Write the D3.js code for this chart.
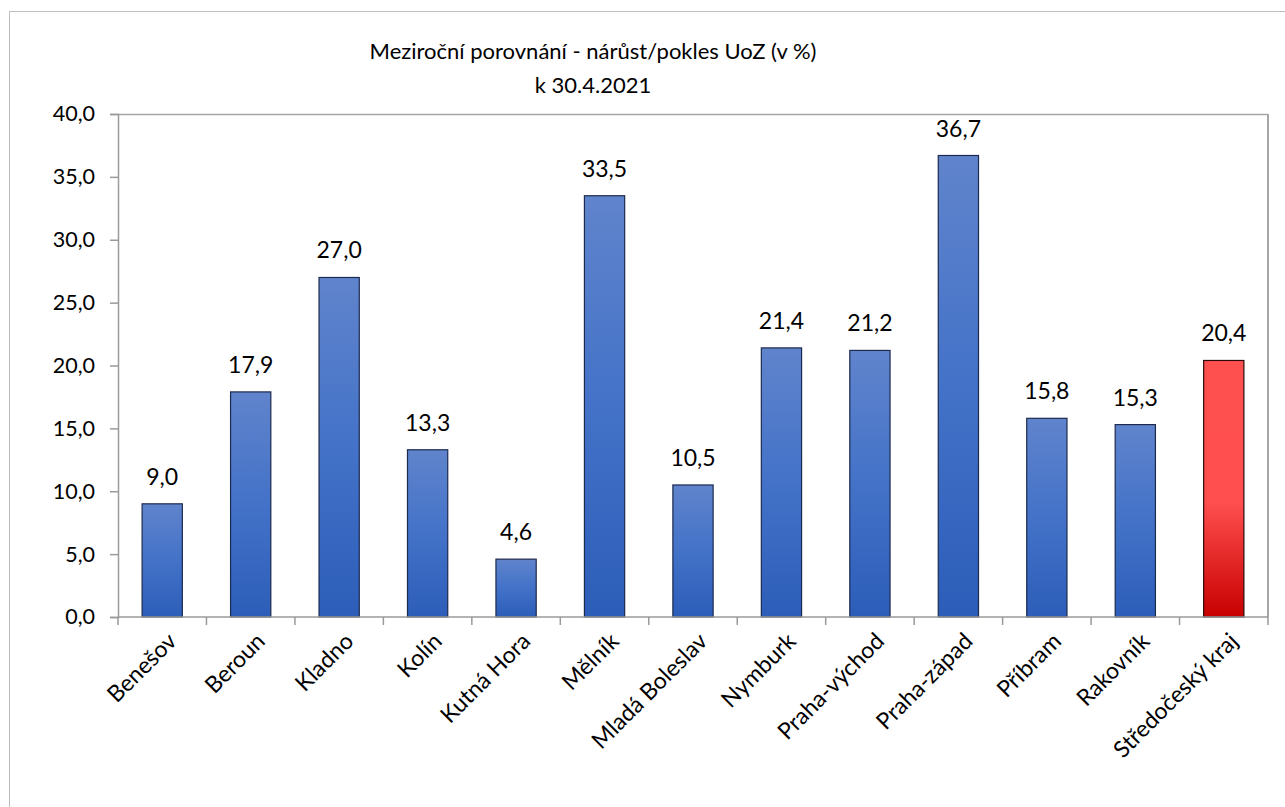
<!DOCTYPE html>
<html>
<head>
<meta charset="utf-8">
<script src="https://d3js.org/d3.v7.min.js"></script>
<style>
  body { margin: 0; background: #fff; }
  svg text { font-family: Lato, "Open Sans", sans-serif; fill: #000; }
</style>
</head>
<body>
<svg width="1285" height="807"></svg>
<script>
var categories = ["Benešov", "Beroun", "Kladno", "Kolín", "Kutná Hora", "Mělník", "Mladá Boleslav",
                  "Nymburk", "Praha-východ", "Praha-západ", "Příbram", "Rakovník", "Středočeský kraj"];
var values = [9.0, 17.9, 27.0, 13.3, 4.6, 33.5, 10.5, 21.4, 21.2, 36.7, 15.8, 15.3, 20.4];
var yTicks = [0, 5, 10, 15, 20, 25, 30, 35, 40];
var titleLines = ["Meziroční porovnání - nárůst/pokles UoZ (v %)", "k 30.4.2021"];

var svg = d3.select("svg");
var margin = {top: 114, left: 118, right: 17, bottom: 190};
var width = 1285 - margin.left - margin.right;
var height = 807 - margin.top - margin.bottom;

// outer chart border (runs off the right and bottom edge)
svg.append("rect")
    .attr("x", 9.5).attr("y", 11.5)
    .attr("width", 1300).attr("height", 820)
    .attr("fill", "none").attr("stroke", "#bdbdbd");

var defs = svg.append("defs");
var blue = defs.append("linearGradient").attr("id", "gBlue")
    .attr("x1", 0).attr("y1", 0).attr("x2", 0).attr("y2", 1);
blue.append("stop").attr("offset", "0%").attr("stop-color", "#6084cc");
blue.append("stop").attr("offset", "50%").attr("stop-color", "#4372c8");
blue.append("stop").attr("offset", "100%").attr("stop-color", "#2c5db8");
var red = defs.append("linearGradient").attr("id", "gRed")
    .attr("x1", 0).attr("y1", 0).attr("x2", 0).attr("y2", 1);
red.append("stop").attr("offset", "0%").attr("stop-color", "#ff5050");
red.append("stop").attr("offset", "55%").attr("stop-color", "#ff4f4f");
red.append("stop").attr("offset", "100%").attr("stop-color", "#c80000");

var g = svg.append("g")
    .attr("transform", "translate(" + margin.left + "," + margin.top + ")");

var x = d3.scaleBand().domain(categories).range([0, width]).paddingInner(0.545).paddingOuter(0.2725);
var xTick = d3.scaleBand().domain(categories).range([0, width]);
var y = d3.scaleLinear().domain([0, 40]).range([height, 0]);

// plot area frame
g.append("line").attr("x1", 0).attr("x2", width).attr("y1", 0.5).attr("y2", 0.5)
    .attr("stroke", "#a6a6a6").attr("stroke-width", 1.5);
g.append("line").attr("x1", width).attr("x2", width).attr("y1", 0).attr("y2", height)
    .attr("stroke", "#a6a6a6").attr("stroke-width", 2);

// y axis
var yAxis = g.append("g")
    .call(d3.axisLeft(y).tickValues(yTicks).tickSize(8).tickPadding(15)
        .tickFormat(function(d) { return d3.format(".1f")(d).replace(".", ","); }));
yAxis.selectAll("path, line").attr("stroke", "#9a9a9a").attr("stroke-width", 1.5);
yAxis.selectAll("text").style("font-size", "21.5px");

// bars
g.selectAll(".bar")
    .data(values)
  .enter().append("rect")
    .attr("class", "bar")
    .attr("x", function(d, i) { return x(categories[i]); })
    .attr("y", function(d) { return y(d); })
    .attr("width", x.bandwidth())
    .attr("height", function(d) { return height - y(d); })
    .attr("fill", function(d, i) { return i === categories.length - 1 ? "url(#gRed)" : "url(#gBlue)"; })
    .attr("stroke", function(d, i) { return i === categories.length - 1 ? "#2a0a0a" : "#1c2a4e"; })
    .attr("stroke-width", 1.2);

// value labels
g.selectAll(".val")
    .data(values)
  .enter().append("text")
    .attr("class", "val")
    .attr("x", function(d, i) { return x(categories[i]) + x.bandwidth() / 2; })
    .attr("y", function(d) { return y(d) - 19; })
    .attr("text-anchor", "middle")
    .style("font-size", "23px")
    .text(function(d) { return d3.format(".1f")(d).replace(".", ","); });

// x axis with ticks on band boundaries
var xAxis = g.append("g").attr("transform", "translate(0," + height + ")");
xAxis.append("line").attr("x1", 0).attr("x2", width).attr("y1", 0).attr("y2", 0)
    .attr("stroke", "#9a9a9a").attr("stroke-width", 1.5);
xAxis.selectAll(".xt")
    .data(categories.concat(["end"]))
  .enter().append("line")
    .attr("x1", function(d, i) { return i < categories.length ? xTick(d) : width; })
    .attr("x2", function(d, i) { return i < categories.length ? xTick(d) : width; })
    .attr("y1", 0).attr("y2", 8)
    .attr("stroke", "#9a9a9a").attr("stroke-width", 1.5);
xAxis.selectAll(".xl")
    .data(categories)
  .enter().append("text")
    .attr("class", "xl")
    .attr("text-anchor", "end")
    .attr("transform", function(d) {
        return "translate(" + (xTick(d) + xTick.bandwidth() / 2 + 10) + ",20) rotate(-45)";
    })
    .attr("dy", "0.35em")
    .style("font-size", "23px")
    .text(function(d) { return d; });

// title
svg.selectAll(".title")
    .data(titleLines)
  .enter().append("text")
    .attr("class", "title")
    .attr("x", 593)
    .attr("y", function(d, i) { return 59 + i * 34; })
    .attr("text-anchor", "middle")
    .style("font-size", "22px")
    .text(function(d) { return d; });
</script>
</body>
</html>
